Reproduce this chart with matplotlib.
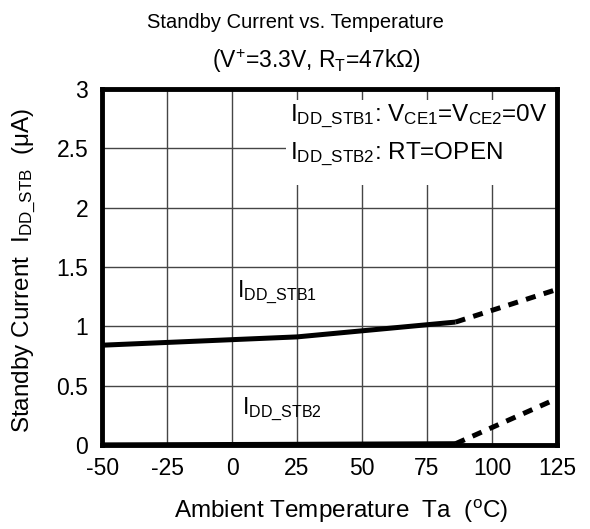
import numpy as np
import matplotlib
matplotlib.use('Agg')
import matplotlib.pyplot as plt
from matplotlib.patches import Rectangle

plt.rcParams['font.family'] = ['Liberation Sans', 'DejaVu Sans']
plt.rcParams['mathtext.fontset'] = 'custom'
plt.rcParams['mathtext.rm'] = 'Liberation Sans'
plt.rcParams['mathtext.it'] = 'Liberation Sans'
plt.rcParams['mathtext.default'] = 'rm'
plt.rcParams['axes.unicode_minus'] = False

# measured (solid) and extrapolated (dashed) segments
stb1_temp = [-50, 25, 86]
stb1_curr = [0.84, 0.91, 1.035]
stb1_ext_temp = [86, 125]
stb1_ext_curr = [1.035, 1.31]

stb2_temp = [-50, 25, 86]
stb2_curr = [0.0, 0.005, 0.01]
stb2_ext_temp = [86, 125]
stb2_ext_curr = [0.01, 0.39]

x_ticks = [-50, -25, 0, 25, 50, 75, 100, 125]
y_ticks = [0, 0.5, 1, 1.5, 2, 2.5, 3]
y_labels = ['0', '0.5', '1', '1.5', '2', '2.5', '3']

fig = plt.figure(figsize=(5.9, 5.29), dpi=100)
ax = fig.add_axes([0.173, 0.159, 0.771, 0.673])

ax.plot(stb1_temp, stb1_curr, color='black', lw=3.6, solid_capstyle='butt', zorder=3)
ax.plot(stb1_ext_temp, stb1_ext_curr, color='black', lw=3.6, dashes=(2.0, 1.7), zorder=3)
ax.plot(stb2_temp, stb2_curr, color='black', lw=3.6, solid_capstyle='butt', zorder=3)
ax.plot(stb2_ext_temp, stb2_ext_curr, color='black', lw=3.6, dashes=(2.0, 1.7), zorder=3)

ax.set_xlim(-50, 125)
ax.set_ylim(0, 3)
ax.set_xticks(x_ticks)
ax.set_yticks(y_ticks)
ax.set_yticklabels(y_labels)
ax.tick_params(direction='in', length=0, labelsize=16.5)
ax.tick_params(axis='x', pad=9)
ax.tick_params(axis='y', pad=10)
ax.grid(True, color='#454545', lw=1.0)
ax.set_axisbelow(True)
for sp in ax.spines.values():
    sp.set_linewidth(3.5)
    sp.set_zorder(5)

ax.set_xlabel(r'Ambient Temperature  Ta  ($^{\rm o}$C)', fontsize=17.5)
ax.xaxis.set_label_coords(0.525, -0.15)
ax.set_ylabel(r'Standby Current  I$_{\rm DD\_STB}$  ($\mu$A)', fontsize=17.5)
ax.yaxis.set_label_coords(-0.14, 0.49)

fig.text(0.5, 0.958, 'Standby Current vs. Temperature', ha='center', va='center', fontsize=14.5)
fig.text(0.536, 0.885, r'(V$^{+}$=3.3V, R$_{\rm T}$=47k$\Omega$)', ha='center', va='center', fontsize=16.5)

ax.text(2, 1.29, r'I$_{\rm DD\_STB1}$', fontsize=16.5, ha='left', va='center')
ax.text(4, 0.3, r'I$_{\rm DD\_STB2}$', fontsize=16.5, ha='left', va='center')

# white panel behind the condition text (hides the grid there)
ax.add_patch(Rectangle((0.405, 0.73), 0.595, 0.239, transform=ax.transAxes,
                       facecolor='white', edgecolor='none', zorder=2))
ax.text(0.413, 0.87, r'I$_{\rm DD\_STB1}$: V$_{\rm CE1}$=V$_{\rm CE2}$=0V' + '\n' + r'I$_{\rm DD\_STB2}$: RT=OPEN',
        transform=ax.transAxes, fontsize=17.5, ha='left', va='center', linespacing=1.6, zorder=4)

fig.savefig('out.png', dpi=100)
